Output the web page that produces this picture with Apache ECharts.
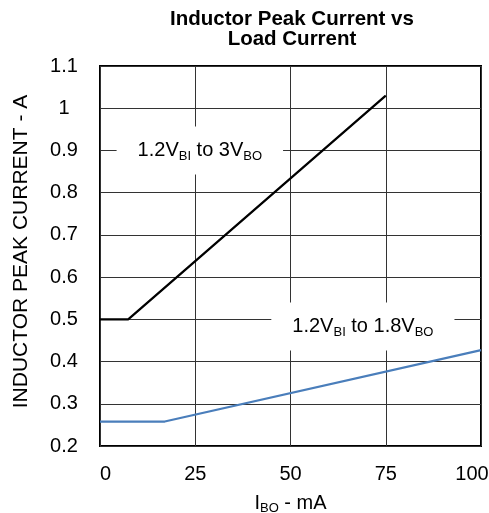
<!DOCTYPE html>
<html>
<head>
<meta charset="utf-8">
<script src="https://cdn.jsdelivr.net/npm/echarts@6/dist/echarts.min.js"></script>
<style>
html,body{margin:0;padding:0;background:#fff;}
#chart{width:489px;height:513px;}
</style>
</head>
<body>
<div id="chart"></div>
<script>
// ---- data ----
var titleText = 'Inductor Peak Current vs\nLoad Current';
var yAxisTitle = 'INDUCTOR PEAK CURRENT - A';
var xTicks = [0, 25, 50, 75, 100];
var yTicks = [0.2, 0.3, 0.4, 0.5, 0.6, 0.7, 0.8, 0.9, 1.0, 1.1];

var series3VX = [0, 7.4, 75];
var series3VY = [0.5, 0.5, 1.03];
var series18VX = [0, 17, 100];
var series18VY = [0.258, 0.258, 0.427];

var annoX = [26.2, 69];
var annoY = [0.9, 0.483];
var annoText = [
  '{m|1.2V}{s|BI}{m| to 3V}{s|BO}',
  '{m|1.2V}{s|BI}{m| to 1.8V}{s|BO}'
];

function zip(xs, ys) { return xs.map(function (x, i) { return [x, ys[i]]; }); }

var FONT = '"Liberation Sans", Arial, sans-serif';
var chart = echarts.init(document.getElementById('chart'), null, {renderer: 'canvas'});

chart.setOption({
  animation: false,
  backgroundColor: '#fff',
  textStyle: {fontFamily: FONT, color: '#000'},
  title: {
    text: titleText,
    left: 292,
    top: 9,
    padding: 0,
    textAlign: 'center',
    textStyle: {fontFamily: FONT, fontSize: 20.5, fontWeight: 'bold', lineHeight: 20, color: '#000'}
  },
  grid: {
    left: 100, right: 8, top: 66, bottom: 67,
    containLabel: false,
    outerBoundsMode: 'none',
    show: true, borderColor: '#000', borderWidth: 2, backgroundColor: 'transparent'
  },
  xAxis: {
    type: 'value',
    min: xTicks[0], max: xTicks[xTicks.length - 1], interval: 25,
    axisLine: {show: false},
    axisTick: {show: false},
    splitLine: {show: true, lineStyle: {color: '#333', width: 1}},
    axisLabel: {
      margin: 18,
      fontSize: 20, color: '#000', fontFamily: FONT,
      alignMinLabel: 'left',
      formatter: function (v) { return v === xTicks[xTicks.length - 1] ? '{mx|' + v + '}' : String(v); },
      rich: {mx: {fontSize: 20, color: '#000', fontFamily: FONT, padding: [0, 18, 0, 0]}}
    },
    name: '{m|I}{s|BO}{m| - mA}',
    nameLocation: 'middle',
    nameGap: 45,
    nameTextStyle: {
      rich: {
        m: {fontSize: 20, fontFamily: FONT, color: '#000', lineHeight: 24},
        s: {fontSize: 13, fontFamily: FONT, color: '#000', lineHeight: 13, verticalAlign: 'bottom'}
      }
    }
  },
  yAxis: {
    type: 'value',
    min: yTicks[0], max: yTicks[yTicks.length - 1], interval: 0.1,
    axisLine: {show: false},
    axisTick: {show: false},
    splitLine: {show: true, lineStyle: {color: '#333', width: 1}},
    axisLabel: {
      margin: 36, align: 'center',
      fontSize: 20, color: '#000', fontFamily: FONT,
      formatter: function (v) { return String(Math.round(v * 10) / 10); }
    },
    name: yAxisTitle,
    nameLocation: 'middle',
    nameGap: 68,
    nameTextStyle: {fontSize: 21, fontFamily: FONT, color: '#000', padding: [0, 0, 0, 9]}
  },
  series: [
    {
      type: 'line', name: '1.2V to 3V',
      data: zip(series3VX, series3VY),
      showSymbol: false, symbol: 'none',
      lineStyle: {color: '#000', width: 2.25},
      z: 3
    },
    {
      type: 'line', name: '1.2V to 1.8V',
      data: zip(series18VX, series18VY),
      showSymbol: false, symbol: 'none',
      lineStyle: {color: '#4a7ebb', width: 2.25},
      z: 3
    },
    {
      type: 'scatter', name: 'annotations',
      data: zip(annoX, annoY),
      symbolSize: 0,
      itemStyle: {color: '#fff', opacity: 1},
      silent: true,
      z: 4,
      label: {
        show: true,
        position: 'inside',
        color: '#000',
        opacity: 1,
        textBorderWidth: 0,
        formatter: function (p) { return annoText[p.dataIndex]; },
        backgroundColor: '#fff',
        padding: [12, 21],
        rich: {
          m: {fontSize: 20, fontFamily: FONT, color: '#000', lineHeight: 24, textBorderWidth: 0},
          s: {fontSize: 13, fontFamily: FONT, color: '#000', lineHeight: 13, verticalAlign: 'bottom', textBorderWidth: 0}
        }
      }
    }
  ]
});
</script>
</body>
</html>
